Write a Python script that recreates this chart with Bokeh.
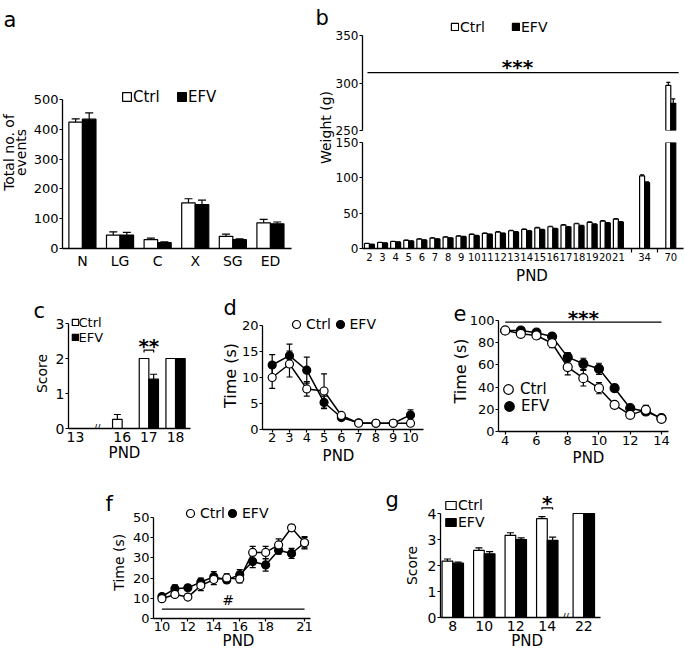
import numpy as np
from bokeh.plotting import figure
from bokeh.models import (Range1d, FixedTicker, Whisker, TeeHead, Label,
                          Legend, LegendItem, ColumnDataSource)
from bokeh.embed import file_html
from bokeh.resources import INLINE

# ---------------- data ----------------
# a: total number of events
cats_a = ["N", "LG", "C", "X", "SG", "ED"]
ctrl_a = [424, 45, 30, 153, 41, 86]
ctrl_a_err = [11, 11, 5, 14, 7, 12]
efv_a = [434, 45, 20, 147, 30, 83]
efv_a_err = [21, 9, 2, 15, 2, 6]

# b: weight (g)
pnd_b = ["2", "3", "4", "5", "6", "7", "8", "9", "10", "11", "12", "13", "14",
         "15", "16", "17", "18", "19", "20", "21", "34", "70"]
ctrl_b = [7.1, 8.5, 9.9, 11.4, 13.3, 14.7, 16.1, 17.5, 19.9, 21.3, 23.2, 25.1,
          27.0, 29.3, 30.8, 33.1, 35.0, 36.9, 38.8, 41.6, 102.7, 297.5]
ctrl_b_err = [0.3, 0.3, 0.3, 0.4, 0.4, 0.4, 0.5, 0.5, 0.5, 0.5, 0.6, 0.6, 0.6,
              0.6, 0.7, 0.7, 0.7, 0.8, 0.8, 0.8, 1.5, 3.2]
efv_b = [5.7, 7.6, 9.0, 10.4, 11.8, 13.3, 14.7, 16.6, 18.0, 19.9, 21.3, 23.2,
         24.6, 26.5, 27.9, 30.3, 32.2, 34.1, 36.0, 37.4, 93.2, 278.6]
efv_b_err = [0.3, 0.3, 0.3, 0.3, 0.4, 0.4, 0.4, 0.5, 0.5, 0.5, 0.5, 0.6, 0.6,
             0.6, 0.6, 0.7, 0.7, 0.7, 0.8, 0.8, 1.2, 4.6]
sig_b = 311

# c: score
pnd_c = ["13", "16", "17", "18"]
ctrl_c = [0, 0.26, 2.0, 2.0]
ctrl_c_err = [0, 0.14, 0, 0]
efv_c = [0, 0, 1.41, 2.0]
efv_c_err = [0, 0, 0.14, 0]

# d: time (s)
days_d = [2, 3, 4, 5, 6, 7, 8, 9, 10]
ctrl_d = [10.0, 12.6, 7.8, 7.4, 2.7, 1.2, 1.2, 1.2, 1.2]
ctrl_d_err = [2.1, 2.5, 1.4, 3.3, 0.3, 0.2, 0.1, 0.1, 0.2]
efv_d = [12.4, 14.2, 11.4, 5.2, 2.3, 1.3, 1.2, 1.2, 2.8]
efv_d_err = [2.0, 2.2, 2.5, 1.2, 0.3, 0.2, 0.1, 0.1, 1.0]

# e: time (s)
days_e = [4, 5, 6, 7, 8, 9, 10, 11, 12, 13, 14]
ctrl_e = [91, 88, 86.5, 79.5, 58, 48, 39, 24, 15, 19.5, 11.4]
ctrl_e_err = [1, 2, 3, 4, 7, 7, 5, 3, 1, 4, 1]
efv_e = [91, 91, 89, 85.5, 67, 61, 56.5, 39, 21, 18, 12]
efv_e_err = [1, 1, 1.5, 2, 4, 5, 5, 3, 1, 2, 1]
sig_e = 98.5

# f: time (s)
days_f = [10, 11, 12, 13, 14, 15, 16, 17, 18, 19, 20, 21]
ticks_f = [10, 12, 14, 16, 18, 21]
ctrl_f = [9.8, 11.9, 10.6, 16.3, 19.3, 20.1, 19.6, 32.7, 32.7, 36.4, 44.9, 37.5]
ctrl_f_err = [1, 1.5, 1, 2.5, 2.5, 2, 2, 3, 3, 3, 1.5, 3]
efv_f = [10.9, 14.7, 15.2, 18.0, 20.7, 19.1, 21.7, 28.2, 26.5, 33.8, 32.2, 37.5]
efv_f_err = [1, 2, 1, 2, 2.5, 1.5, 2.5, 3, 3, 2, 2.5, 2.5]
sig_f = 4.6

# g: score
pnd_g = ["8", "10", "12", "14", "22"]
ctrl_g = [2.17, 2.58, 3.16, 3.80, 4.0]
ctrl_g_err = [0.08, 0.1, 0.1, 0.08, 0]
efv_g = [2.09, 2.45, 3.0, 2.97, 4.0]
efv_g_err = [0.04, 0.08, 0.06, 0.12, 0]

FONT = "DejaVu Sans"


# ---------------- helpers ----------------
def make_fig(frame, xr, ymin, ymax_axis, px_per_unit, bl, bt, br, bb, ysize=13, xsize=13):
    """frame = (left, top, right, bottom) of the plotting frame in page pixels."""
    x0, y0, x1, y1 = frame
    ytop = ymin + (y1 - y0) / px_per_unit
    p = figure(frame_width=x1 - x0, frame_height=y1 - y0,
               x_range=Range1d(*xr), y_range=Range1d(ymin, ytop),
               min_border_left=bl, min_border_top=bt,
               min_border_right=br, min_border_bottom=bb,
               toolbar_location=None, output_backend="svg",
               background_fill_color=None, border_fill_color=None,
               outline_line_color=None,
               styles={"position": "absolute", "left": f"{x0 - bl}px",
                       "top": f"{y0 - bt}px"})
    p.title.visible = False
    p.xgrid.visible = False
    p.ygrid.visible = False
    for ax in p.axis:
        ax.axis_line_color = "black"
        ax.axis_line_width = 1.3
        ax.major_tick_line_color = "black"
        ax.major_tick_line_width = 1.2
        ax.major_tick_out = 3
        ax.major_tick_in = 0
        ax.minor_tick_line_color = None
        ax.major_label_text_font = FONT
        ax.major_label_text_color = "black"
    p.yaxis.bounds = (ymin, ymax_axis)
    p.yaxis.major_label_text_font_size = f"{ysize}px"
    p.xaxis.major_label_text_font_size = f"{xsize}px"
    p.yaxis.major_label_standoff = 1
    p.xaxis.major_label_standoff = 0
    return p


def txt(p, x, y, text, size, angle=0.0, align="center", baseline="middle",
        bold=False, yoff=0):
    p.add_layout(Label(x=x, y=y, text=text, angle=angle, text_font=FONT,
                       text_font_size=f"{size}px", text_align=align,
                       text_baseline=baseline,
                       text_font_style="bold" if bold else "normal",
                       text_color="black", y_offset=yoff))


def leg(p, r, label, x, y, gw, gh, size, standoff):
    p.add_layout(Legend(items=[LegendItem(label=label, renderers=[r])],
                        location=(x, y), glyph_width=gw, glyph_height=gh,
                        label_standoff=standoff, label_height=gh, label_width=10,
                        label_text_font=FONT, label_text_font_size=f"{size}px",
                        label_text_color="black", padding=0, margin=0, spacing=0,
                        border_line_color=None, background_fill_color=None))


def whisk(p, x, low, up, cap, both=False):
    x = np.asarray(x, float)
    low = np.asarray(low, float)
    up = np.asarray(up, float)
    m = up > low
    if not m.any():
        return
    src = ColumnDataSource(dict(base=x[m], lower=low[m], upper=up[m]))
    p.add_layout(Whisker(source=src, base="base", lower="lower", upper="upper",
                         line_color="black", line_width=1.2,
                         upper_head=TeeHead(size=cap, line_color="black", line_width=1.2),
                         lower_head=TeeHead(size=cap, line_color="black", line_width=1.2) if both else None))


def bars(p, pos, ctrl, ctrl_err, efv, efv_err, off, width, cap, keep=None):
    pos = np.asarray(pos, float)
    ctrl, ctrl_err = np.asarray(ctrl, float), np.asarray(ctrl_err, float)
    efv, efv_err = np.asarray(efv, float), np.asarray(efv_err, float)
    mc = np.ones(len(pos), bool) if keep is None else keep(ctrl, ctrl_err)
    me = np.ones(len(pos), bool) if keep is None else keep(efv, efv_err)
    cx, ex = pos - off, pos + off
    rc = p.vbar(x=cx[mc], top=ctrl[mc], width=width, bottom=0, fill_color="white",
                line_color="black", line_width=1.2)
    re = p.vbar(x=ex[me], top=efv[me], width=width, bottom=0, fill_color="black",
                line_color="black", line_width=1.2)
    for x, v, e, m in [(cx, ctrl, ctrl_err, mc), (ex, efv, efv_err, me)]:
        m = m & (e > 0)
        whisk(p, x[m], v[m], (v + e)[m], cap)
    return rc, re


def lines(p, days, ctrl, ctrl_err, efv, efv_err, size):
    d = np.asarray(days, float)
    c, ce = np.asarray(ctrl, float), np.asarray(ctrl_err, float)
    f, fe = np.asarray(efv, float), np.asarray(efv_err, float)
    p.line(d, f, line_color="black", line_width=1.5)
    p.line(d, c, line_color="black", line_width=1.5)
    whisk(p, d, f - fe, f + fe, 6, both=True)
    whisk(p, d, c - ce, c + ce, 6, both=True)
    re = p.scatter(d, f, size=size, marker="circle", fill_color="black",
                   line_color="black", line_width=1.2)
    rc = p.scatter(d, c, size=size, marker="circle", fill_color="white",
                   line_color="black", line_width=1.2)
    return rc, re


figs = []

# ---------------- panel a ----------------
pos_a = np.arange(len(cats_a))
pa = make_fig((62, 86, 291, 248), (-0.53, 5.56), 0, 500, 149 / 500, 60, 86, 10, 30,
              ysize=13, xsize=14)
pa.yaxis.ticker = [0, 100, 200, 300, 400, 500]
pa.xaxis.ticker = FixedTicker(ticks=[int(v) for v in pos_a])
pa.xaxis.major_label_overrides = {int(v): s for v, s in zip(pos_a, cats_a)}
pa.xaxis.major_tick_line_color = None
pa.xaxis.major_tick_out = 0
pa.xaxis.major_label_standoff = 4
rc, re = bars(pa, pos_a, ctrl_a, ctrl_a_err, efv_a, efv_a_err, 0.18, 0.36, 8)
leg(pa, rc, "Ctrl", 59, 142.5, 11, 11, 15, 1)
leg(pa, re, "EFV", 114, 142.5, 11, 11, 15, 1)
figs.append(pa)

# ---------------- panel b ----------------
pos_b = np.array(list(range(20)) + [21, 23])
xr_b = (-0.53, 23.97)
pu = make_fig((362, 14, 683, 130), xr_b, 250, 350, 95 / 100, 60, 14, 2, 12, ysize=12)
pu.xaxis.visible = False
pu.yaxis.ticker = [250, 300, 350]
rcu, reu = bars(pu, pos_b, ctrl_b, ctrl_b_err, efv_b, efv_b_err, 0.19, 0.38, 4,
                keep=lambda v, e: v >= 250)
pu.segment(x0=[pos_b[0] - 0.15], y0=[sig_b], x1=[pos_b[-1] + 0.6], y1=[sig_b],
           line_color="black", line_width=1.3)
txt(pu, 11.3, sig_b, "***", 20, bold=True, yoff=6)
leg(pu, rcu, "Ctrl", 88, 95.5, 9, 9, 14, 1)
leg(pu, reu, "EFV", 149, 95.5, 9, 9, 14, 1)
figs.append(pu)

pl = make_fig((362, 142, 683, 248), xr_b, 0, 150, 106 / 150, 60, 20, 2, 40,
              ysize=12, xsize=10)
pl.yaxis.ticker = [0, 50, 100, 150]
pl.xaxis.ticker = FixedTicker(ticks=[int(v) for v in pos_b], minor_ticks=[20, 22])
pl.xaxis.major_label_overrides = {int(v): s for v, s in zip(pos_b, pnd_b)}
pl.xaxis.major_tick_line_color = None
pl.xaxis.major_tick_out = 4
pl.xaxis.minor_tick_line_color = "black"
pl.xaxis.minor_tick_line_width = 1.2
pl.xaxis.minor_tick_out = 4
pl.xaxis.minor_tick_in = 0
bars(pl, pos_b, ctrl_b, ctrl_b_err, efv_b, efv_b_err, 0.19, 0.38, 4,
     keep=lambda v, e: v > -1)
figs.append(pl)

# ---------------- panel c ----------------
idx_c = np.arange(len(pnd_c))
pos_c = idx_c + np.where(idx_c >= 1, 0.75, 0.0)
pc = make_fig((68, 312, 190, 428), (-0.26, 4.31), 0, 3, 35, 66, 25, 10, 40,
              ysize=14, xsize=14)
pc.yaxis.ticker = [0, 1, 2, 3]
pc.xaxis.ticker = FixedTicker(ticks=[float(v) for v in pos_c])
pc.xaxis.major_label_overrides = {float(v): s for v, s in zip(pos_c, pnd_c)}
pc.xaxis.major_tick_line_color = None
pc.xaxis.major_tick_out = 0
pc.xaxis.major_label_standoff = 3
rc, re = bars(pc, pos_c, ctrl_c, ctrl_c_err, efv_c, efv_c_err, 0.18, 0.36, 7)
bx0, bx1, by = pos_c[2] - 0.18, pos_c[2] + 0.18, 2.24
pc.multi_line(xs=[[bx0, bx0, bx1, bx1]], ys=[[by - 0.07, by, by, by - 0.07]],
              line_color="black", line_width=1.2)
txt(pc, pos_c[2], by, "**", 20, bold=True, yoff=4)
txt(pc, 0.81, 0, "//", 10)
leg(pc, rc, "Ctrl", 2.5, 98.5, 8, 8, 13, 0)
leg(pc, re, "EFV", 2.5, 83.5, 8, 8, 13, 0)
figs.append(pc)

# ---------------- panel d ----------------
pd_ = make_fig((262, 311, 423, 429), (1.44, 10.75), 0, 20, 5.2, 45, 20, 5, 40)
pd_.yaxis.ticker = [0, 5, 10, 15, 20]
pd_.xaxis.ticker = days_d
rc, re = lines(pd_, days_d, ctrl_d, ctrl_d_err, efv_d, efv_d_err, 8)
leg(pd_, rc, "Ctrl", 24, 95, 20, 20, 14, 0)
leg(pd_, re, "EFV", 67.5, 95, 20, 20, 14, 0)
figs.append(pd_)

# ---------------- panel e ----------------
pe = make_fig((498, 300, 668, 431), (3.57, 14.45), 0, 100, 1.11, 50, 15, 10, 40)
pe.yaxis.ticker = [0, 20, 40, 60, 80, 100]
pe.xaxis.ticker = [4, 6, 8, 10, 12, 14]
pe.xaxis.major_label_standoff = 1
rc, re = lines(pe, days_e, ctrl_e, ctrl_e_err, efv_e, efv_e_err, 9)
pe.segment(x0=[days_e[0]], y0=[sig_e], x1=[days_e[-1]], y1=[sig_e],
           line_color="black", line_width=1.3)
txt(pe, (days_e[0] + days_e[-1]) / 2, sig_e, "***", 20, bold=True, yoff=4)
leg(pe, rc, "Ctrl", -2, 29.7, 24, 24, 15, 0)
leg(pe, re, "EFV", -1, 13, 24, 24, 15, 0)
figs.append(pe)

# ---------------- panel f ----------------
pf = make_fig((153, 500, 310, 618), (9.35, 21.46), 0, 50, 2.02, 55, 18, 10, 30)
pf.yaxis.ticker = [0, 10, 20, 30, 40, 50]
pf.xaxis.ticker = ticks_f
rc, re = lines(pf, days_f, ctrl_f, ctrl_f_err, efv_f, efv_f_err, 8)
pf.segment(x0=[days_f[0]], y0=[sig_f], x1=[days_f[-1]], y1=[sig_f],
           line_color="black", line_width=1.3)
txt(pf, 15.1, sig_f, "#", 14, yoff=9)
leg(pf, rc, "Ctrl", 27, 94.7, 20, 20, 14, 0)
leg(pf, re, "EFV", 69, 94.7, 20, 20, 14, 0)
figs.append(pf)

# ---------------- panel g ----------------
idx_g = np.arange(len(pnd_g))
pos_g = idx_g + np.where(idx_g >= 4, 0.16, 0.0)
pg = make_fig((440, 485, 600, 617), (-0.39, 4.69), 0, 4, 26, 60, 5, 10, 30,
              ysize=14, xsize=14)
pg.yaxis.ticker = [0, 1, 2, 3, 4]
pg.xaxis.ticker = FixedTicker(ticks=[float(v) for v in pos_g])
pg.xaxis.major_label_overrides = {float(v): s for v, s in zip(pos_g, pnd_g)}
pg.xaxis.major_tick_line_color = None
pg.xaxis.major_tick_out = 0
pg.xaxis.major_label_standoff = 3
rc, re = bars(pg, pos_g, ctrl_g, ctrl_g_err, efv_g, efv_g_err, 0.17, 0.34, 7)
gx0, gx1, gy = pos_g[3] - 0.17, pos_g[3] + 0.17, 4.22
pg.multi_line(xs=[[gx0, gx0, gx1, gx1]], ys=[[gy - 0.07, gy, gy, gy - 0.07]],
              line_color="black", line_width=1.2)
txt(pg, pos_g[3], gy, "*", 20, bold=True, yoff=5)
txt(pg, 3.58, 0, "//", 10)
leg(pg, rc, "Ctrl", 4, 104.5, 13, 10, 14, 1)
leg(pg, re, "EFV", 4, 87.5, 13, 10, 14, 1)
figs.append(pg)

# ---------------- overlay: panel letters and axis titles (page pixels) ----------------
ov = figure(width=680, height=650, x_range=Range1d(0, 680), y_range=Range1d(650, 0),
            x_axis_location=None, y_axis_location=None, min_border=0,
            toolbar_location=None, output_backend="svg",
            background_fill_color=None, border_fill_color=None, outline_line_color=None,
            styles={"position": "absolute", "left": "0px", "top": "0px"})
ov.title.visible = False
ov.grid.visible = False

panel_letters = [("a", 3, 19), ("b", 315, 17), ("c", 33, 310), ("d", 223, 307),
                 ("e", 453, 312), ("f", 105, 503), ("g", 385, 499)]
for ch, x, y in panel_letters:
    txt(ov, x, y, ch, 21, align="left", baseline="alphabetic")

y_titles = [("Total no. of", 8, 152, 14), ("events", 20, 152, 14),
            ("Weight (g)", 325.5, 127, 14), ("Score", 41.7, 373, 14),
            ("Time (s)", 230, 375, 16), ("Time (s)", 460, 370.5, 16),
            ("Time (s)", 118.3, 561.7, 14), ("Score", 411.7, 565, 14)]
for t, x, y, s in y_titles:
    txt(ov, x, y, t, s, angle=np.pi / 2)

x_titles = [(531.5, 275), (124, 452), (338, 455), (588, 457), (238, 640), (526.7, 640)]
for x, y in x_titles:
    txt(ov, x, y, "PND", 15)
figs.append(ov)

open("out.html", "w").write(file_html(figs, INLINE))
